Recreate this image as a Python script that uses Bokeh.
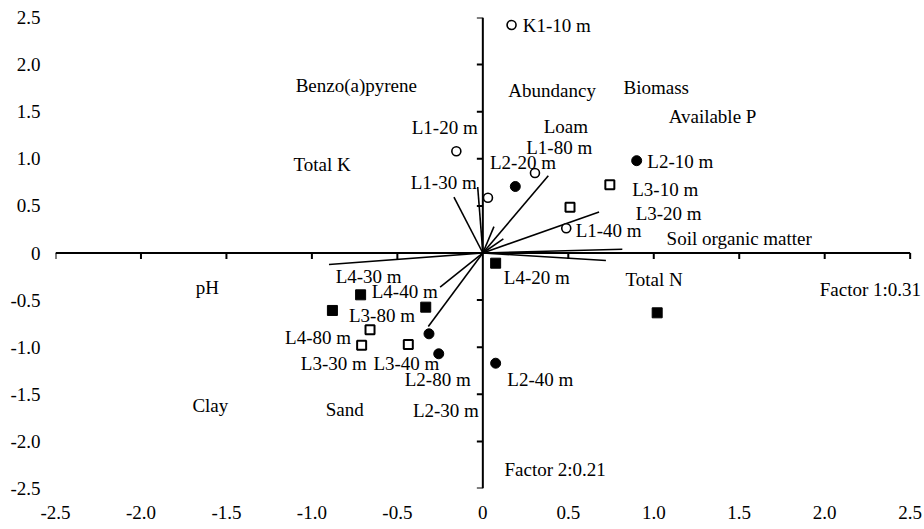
from bokeh.plotting import figure
from bokeh.models import FixedTicker, CustomJSTickFormatter, ColumnDataSource
from bokeh.core.properties import value
from bokeh.embed import file_html
from bokeh.resources import INLINE

# ---------------- data ----------------
tick_values = [-2.5, -2.0, -1.5, -1.0, -0.5, 0.0, 0.5, 1.0, 1.5, 2.0, 2.5]
tick_labels = ["-2.5", "-2.0", "-1.5", "-1.0", "-0.5", "0", "0.5", "1.0", "1.5", "2.0", "2.5"]

# sample scores (Factor 1, Factor 2)
open_circle_x = [0.168, -0.155, 0.03, 0.305, 0.488]
open_circle_y = [2.42, 1.08, 0.586, 0.85, 0.263]
filled_circle_x = [0.90, 0.19, -0.315, -0.258, 0.075]
filled_circle_y = [0.98, 0.706, -0.858, -1.07, -1.17]
open_square_x = [0.743, 0.51, -0.66, -0.709, -0.436]
open_square_y = [0.724, 0.486, -0.815, -0.979, -0.971]
filled_square_x = [0.075, -0.715, -0.88, -0.334, 1.02]
filled_square_y = [-0.108, -0.444, -0.61, -0.575, -0.635]

# variable loading vectors (end points)
vec_x = [-0.169, -0.03, 0.383, 0.68, 0.065, 0.12, 0.816, 0.72, -0.90, -0.25, -0.319]
vec_y = [0.592, 0.70, 0.82, 0.435, 0.28, 0.15, 0.04, -0.08, -0.122, -0.363, -0.78]

# text labels and their anchor positions
label_text = ["K1-10 m", "Benzo(a)pyrene", "Abundancy", "Biomass", "Available P", "Loam",
              "L1-20 m", "L1-80 m", "Total K", "L2-20 m", "L2-10 m", "L1-30 m",
              "L3-10 m", "L3-20 m", "L1-40 m", "Soil organic matter", "Total N",
              "Factor 1:0.31", "pH", "Clay", "Sand", "L4-30 m", "L4-40 m", "L3-80 m",
              "L4-80 m", "L3-30 m", "L3-40 m", "L2-80 m", "L2-30 m", "L4-20 m",
              "L2-40 m", "Factor 2:0.21"]
label_x = [0.233, -1.095, 0.149, 0.823, 1.087, 0.356,
           -0.416, 0.254, -1.108, 0.042, 0.962, -0.422,
           0.874, 0.894, 0.543, 1.075, 0.835,
           1.971, -1.68, -1.699, -0.919, -0.861, -0.65, -0.783,
           -1.157, -1.065, -0.64, -0.457, -0.409, 0.123,
           0.143, 0.127]
label_y = [2.42, 1.782, 1.721, 1.761, 1.445, 1.346,
           1.328, 1.115, 0.941, 0.96, 0.973, 0.753,
           0.672, 0.417, 0.234, 0.151, -0.285,
           -0.391, -0.364, -1.622, -1.657, -0.247, -0.41, -0.665,
           -0.896, -1.172, -1.172, -1.338, -1.668, -0.257,
           -1.338, -2.303]

# ---------------- figure ----------------
FONT = "Liberation Serif"

p = figure(frame_width=868, frame_height=471, x_range=(-2.5, 2.578), y_range=(-2.5, 2.5),
           output_backend="svg", toolbar_location=None,
           min_border_left=55, min_border_right=1, min_border_top=17, min_border_bottom=41)
p.outline_line_color = None
p.xgrid.visible = False
p.ygrid.visible = False
p.background_fill_color = "white"
p.border_fill_color = "white"

fmt = CustomJSTickFormatter(args=dict(vals=tick_values, labs=tick_labels), code="""
const i = vals.findIndex(v => Math.abs(v - tick) < 1e-9);
return i >= 0 ? labs[i] : '';
""")
for ax, standoff in ((p.xaxis[0], 17), (p.yaxis[0], 15)):
    ax.ticker = FixedTicker(ticks=tick_values)
    ax.formatter = fmt
    ax.axis_line_color = None
    ax.major_tick_line_color = None
    ax.minor_tick_line_color = None
    ax.major_tick_out = 0
    ax.major_tick_in = 0
    ax.major_label_standoff = standoff
    ax.major_label_text_font = FONT
    ax.major_label_text_font_size = "19px"
    ax.major_label_text_color = "black"

# central crosshair axes
lo, hi = tick_values[0], tick_values[-1]
p.segment(x0=[lo, 0], y0=[0, lo], x1=[hi, 0], y1=[0, hi], line_color="black", line_width=2)
inner_ticks = [t for t in tick_values if t != 0]
p.segment(x0=inner_ticks, y0=[0] * len(inner_ticks), x1=inner_ticks, y1=[-0.064] * len(inner_ticks),
          line_color="black", line_width=2)
p.segment(x0=[0] * len(inner_ticks), y0=inner_ticks, x1=[-0.035] * len(inner_ticks), y1=inner_ticks,
          line_color="black", line_width=2)

# loading vectors
p.segment(x0=[0] * len(vec_x), y0=[0] * len(vec_y), x1=vec_x, y1=vec_y,
          line_color="black", line_width=1.6)

# sample points
p.scatter(open_circle_x, open_circle_y, marker="circle", size=9, fill_color="white",
          line_color="black", line_width=1.6)
p.scatter(filled_circle_x, filled_circle_y, marker="circle", size=10, fill_color="black",
          line_color="black")
p.scatter(open_square_x, open_square_y, marker="square", size=9, fill_color="white",
          line_color="black", line_width=2)
p.scatter(filled_square_x, filled_square_y, marker="square", size=10, fill_color="black",
          line_color="black")

src = ColumnDataSource(dict(x=label_x, y=label_y, t=label_text))
p.text(x="x", y="y", text="t", source=src, text_font=value(FONT), text_font_size="19px",
       text_align="left", text_baseline="middle", text_color="black")

open("out.html", "w").write(file_html(p, INLINE))
